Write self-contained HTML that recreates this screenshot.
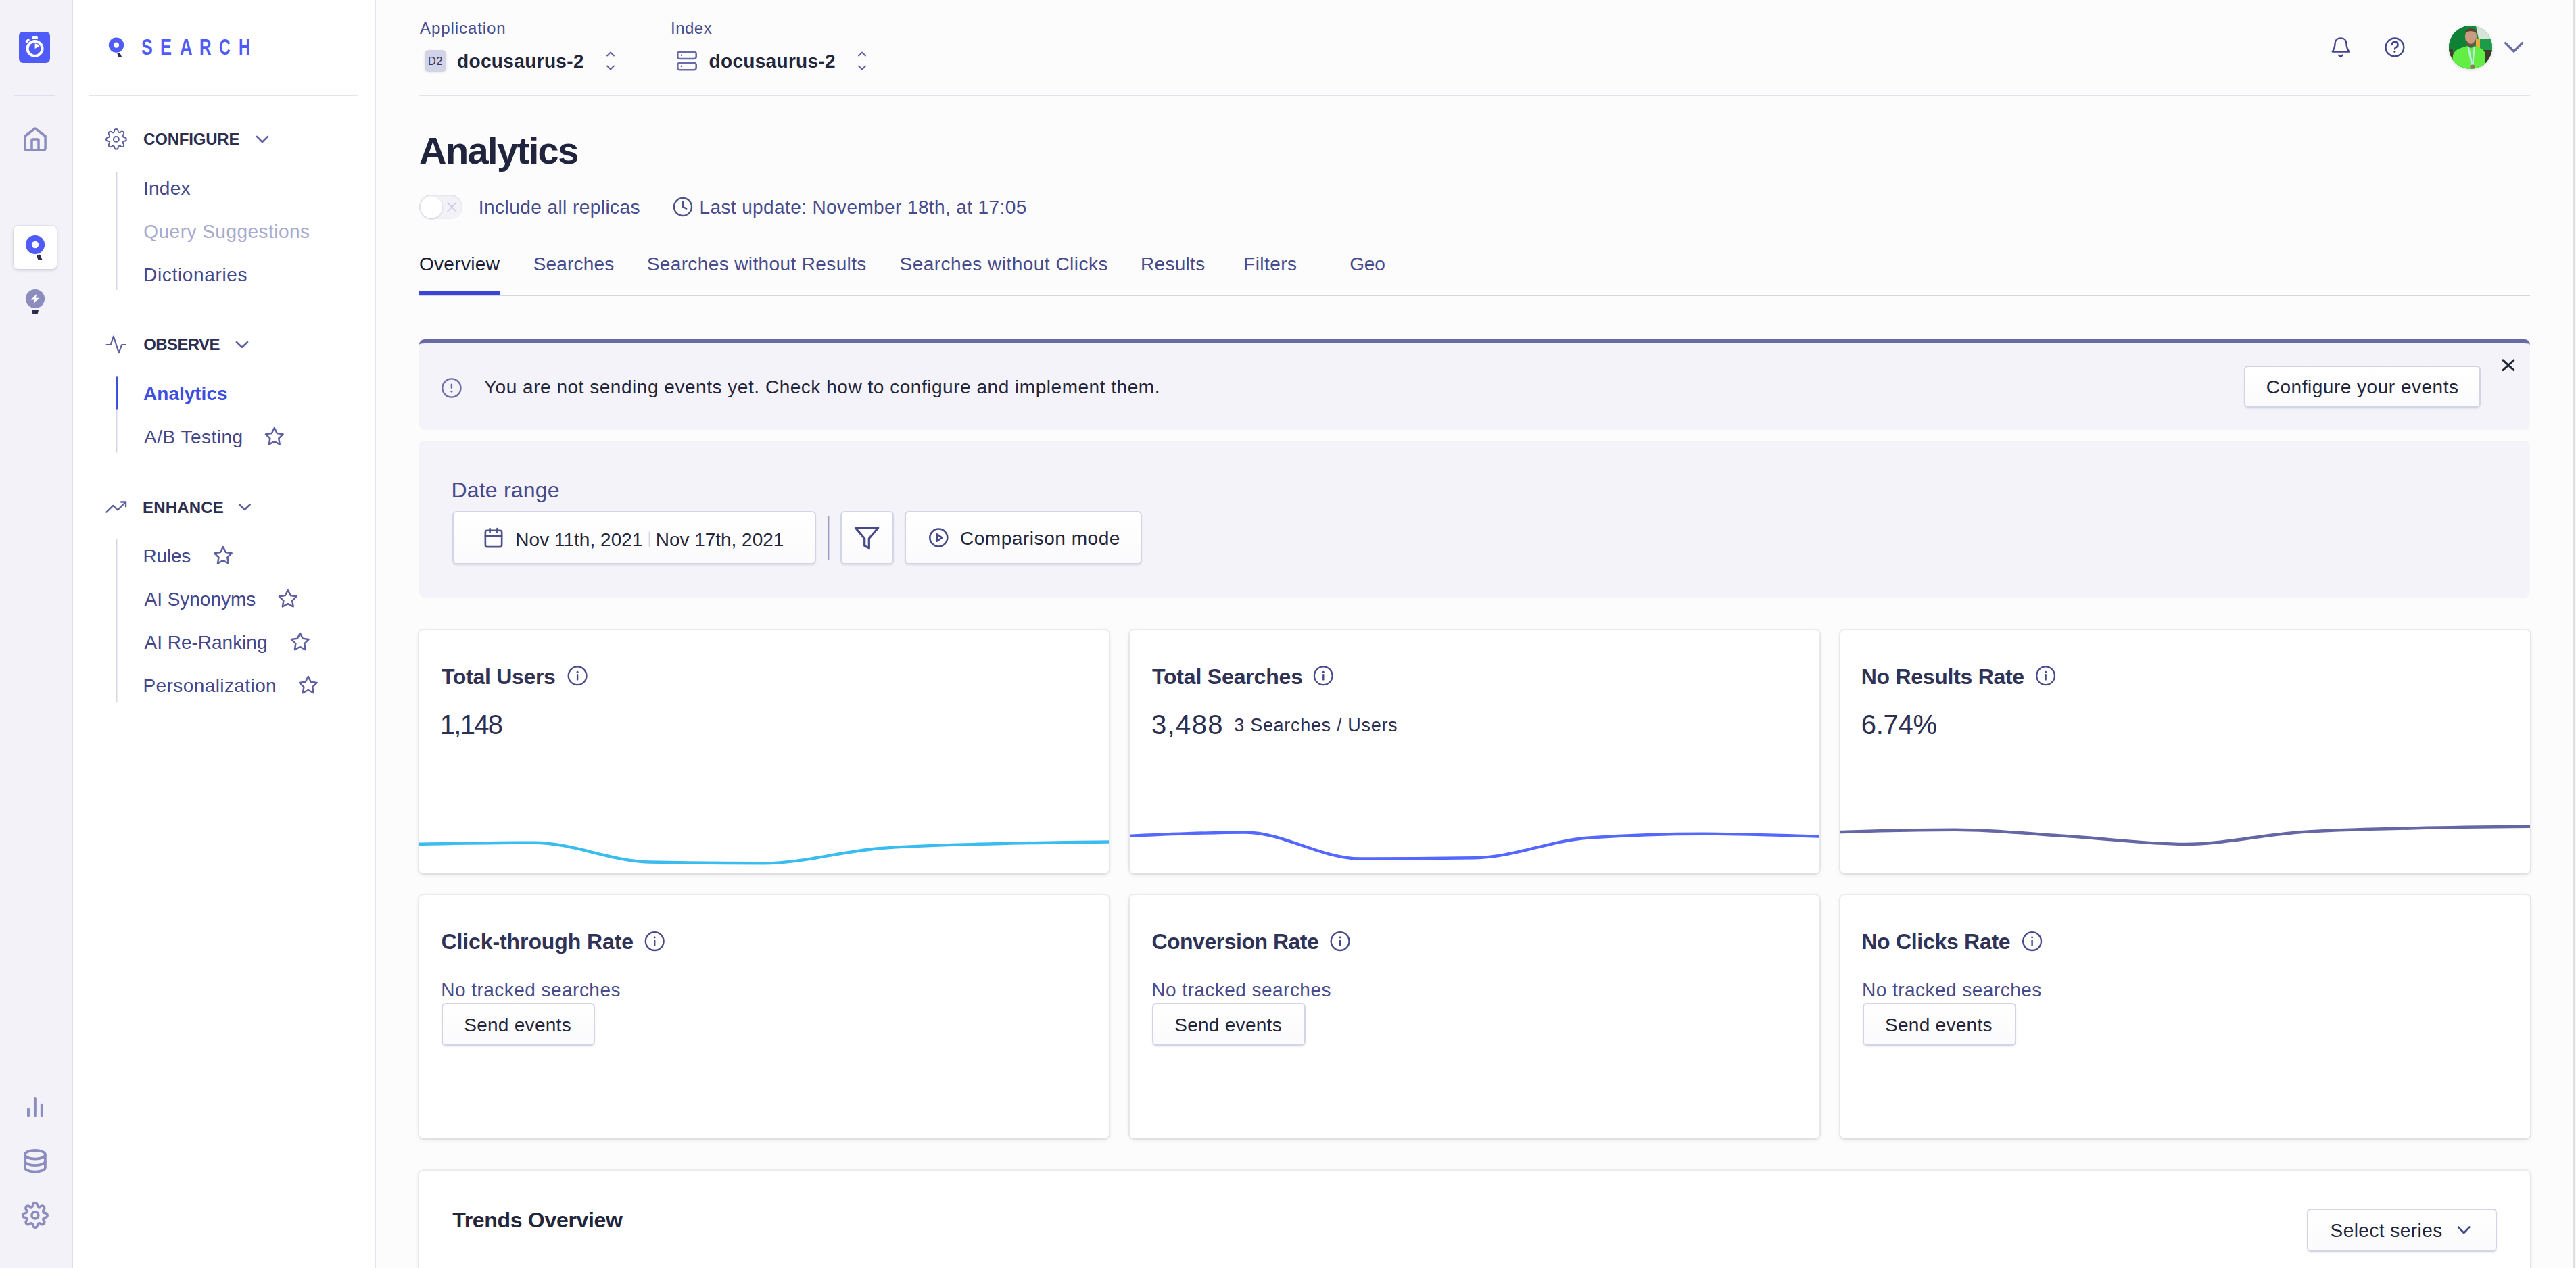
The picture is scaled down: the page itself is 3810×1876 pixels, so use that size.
<!DOCTYPE html><html><head><meta charset="utf-8"><title>Analytics</title><style>

*{margin:0;padding:0;box-sizing:border-box}
html,body{width:3810px;height:1876px;overflow:hidden;background:#fcfcfc;font-family:'Liberation Sans',sans-serif}
@media (max-width:2000px){html{zoom:0.5}}
.a{position:absolute}
.t{position:absolute;white-space:nowrap;font-family:'Liberation Sans',sans-serif}
.ov{position:absolute;left:0;top:0;pointer-events:none}
.btn{position:absolute;background:linear-gradient(#fff,#fbfbfd);border:2px solid #d4d4e8;border-radius:6px;box-shadow:0 2px 2px rgba(35,38,59,.08)}
.card{position:absolute;background:#fff;border-radius:6px;box-shadow:0 0 0 2px rgba(35,38,59,.05),0 2px 6px rgba(35,38,59,.12)}

</style></head><body>
<div class="a" style="left:0;top:0;width:106px;height:1876px;background:#f3f2f9"></div>
<div class="a" style="left:106px;top:0;width:2px;height:1876px;background:#dfdeed"></div>
<div class="a" style="left:108px;top:0;width:446px;height:1876px;background:#fff"></div>
<div class="a" style="left:554px;top:0;width:2px;height:1876px;background:#e4e3f0"></div>
<div class="a" style="left:3806px;top:0;width:2px;height:1876px;background:#e0e0e0"></div>
<div class="a" style="left:3808px;top:0;width:2px;height:1876px;background:#f6f6f6"></div>
<div class="a" style="left:20px;top:334px;width:64px;height:64px;background:#fff;border-radius:7px;box-shadow:0 0 0 1px rgba(35,38,59,.05),0 2px 5px rgba(35,38,59,.15)"></div>
<div class="a" style="left:628px;top:74px;width:32px;height:32px;background:#d3d3e7;border-radius:6px;box-shadow:0 1px 3px rgba(35,38,59,.15)"></div>
<div class="a" style="left:3622px;top:38px;width:64px;height:64px;border-radius:50%;overflow:hidden;box-shadow:0 1px 4px rgba(35,38,59,.18)"><svg width="64" height="64" viewBox="0 0 64 64"><rect width="64" height="64" fill="#138c3e"/><rect x="0" y="0" width="26" height="64" fill="#0f8236"/><path d="M40 0 H64 V20 H44 Z" fill="#d9e4d8"/><rect x="40" y="19" width="24" height="20" fill="#1d9a4a"/><rect x="40" y="20" width="6" height="14" fill="#e0b23a"/><rect x="48" y="36" width="16" height="28" fill="#3b3a2c"/><rect x="0" y="34" width="6" height="20" fill="#4a3a2a"/><ellipse cx="32.5" cy="16" rx="8.6" ry="12" fill="#c99b80"/><path d="M24 8 Q32 -1 41 8 L41 11 Q32 5 24 11 Z" fill="#5a4636"/><path d="M25 20 Q32.5 34 40 20 L40 26 Q32.5 36 25 26 Z" fill="#6e5442"/><path d="M4 64 L6 44 Q8 36 18 33 L27 30 Q32.5 36 38 30 L46 33 Q54 36 54 44 L54 64 Z" fill="#62ee42"/><path d="M27.5 32 L33 59 L36.5 59 L38.5 32 L36.5 32 L35 54 L30 32 Z" fill="#bfe8e6"/><circle cx="35" cy="61" r="3.6" fill="#8a7a55"/></svg></div>
<div class="a" style="left:620px;top:288px;width:64px;height:36px;border-radius:18px;background:#f2f2f8;box-shadow:inset 0 1px 3px rgba(35,38,59,.12)"></div>
<div class="a" style="left:621.5px;top:290px;width:32.5px;height:32.5px;border-radius:50%;background:#fff;box-shadow:0 1px 3px rgba(35,38,59,.2)"></div>
<div class="a" style="left:620px;top:502px;width:3122px;height:134px;border-radius:8px;background:#f4f3f9;border-top:6px solid #696aa3"></div>
<div class="a" style="left:620px;top:652px;width:3122px;height:232px;border-radius:8px;background:#f4f3f9"></div>
<div class="btn" style="left:3319px;top:540.5px;width:350px;height:62.5px"></div>
<div class="btn" style="left:669px;top:756px;width:538px;height:79px"></div>
<div class="btn" style="left:1242.5px;top:756px;width:79px;height:79px"></div>
<div class="btn" style="left:1338px;top:756px;width:351px;height:79px"></div>
<div class="card" style="left:620px;top:932px;width:1020px;height:360px"></div>
<div class="card" style="left:1671px;top:932px;width:1020px;height:360px"></div>
<div class="card" style="left:2722px;top:932px;width:1020px;height:360px"></div>
<div class="card" style="left:620px;top:1324px;width:1020px;height:360px"></div>
<div class="card" style="left:1671px;top:1324px;width:1020px;height:360px"></div>
<div class="card" style="left:2722px;top:1324px;width:1020px;height:360px"></div>
<div class="card" style="left:620px;top:1732px;width:3122px;height:200px"></div>
<div class="btn" style="left:652.5px;top:1484px;width:227px;height:63px"></div>
<div class="btn" style="left:1704px;top:1484px;width:227px;height:63px"></div>
<div class="btn" style="left:2755px;top:1484px;width:227px;height:63px"></div>
<div class="btn" style="left:3412px;top:1788px;width:281px;height:64px"></div>
<svg class="ov" width="3810" height="1876" viewBox="0 0 3810 1876"><rect x="28" y="47" width="46" height="46" rx="6" fill="#505cf9"/><circle cx="51.6" cy="71.9" r="11" fill="none" stroke="#fff" stroke-width="4"/><path d="M49.1 56.1 H54.1" stroke="#fff" stroke-width="4" stroke-linecap="round"/><path d="M39.5 61.5 L42 59" stroke="#fff" stroke-width="3.6" stroke-linecap="round"/><path d="M51.6 72 L51.6 64.6 A7.4 7.4 0 0 1 58.4 68.2 Z" fill="#fff"/><rect x="20" y="140" width="62" height="2" fill="#dfdeed"/><path d="M36.8 201.5 L51.9 190 L67.1 201.5 V218.7 Q67.1 222.2 63.6 222.2 H40.3 Q36.8 222.2 36.8 218.7 Z" fill="none" stroke="#8c8dbe" stroke-width="3.5" stroke-linejoin="round"/><path d="M47 222.2 V207.4 Q47 205.9 48.5 205.9 H55.5 Q57 205.9 57 207.4 V222.2" fill="none" stroke="#8c8dbe" stroke-width="3.5" stroke-linejoin="round"/><circle cx="52" cy="362" r="14.1" fill="#505cf9"/><circle cx="52" cy="362" r="5.2" fill="#fff"/><path d="M54 377.8 L59.1 376.4 L62.8 384.9 L56.6 384.9 Z" fill="#2c2e50"/><circle cx="52" cy="442" r="14.1" fill="#8c8dbe"/><path d="M54.6 434.6 L45.6 443.6 L51.4 443.6 L49.6 449.6 L58.5 440.7 L52.8 440.7 Z" fill="#fff"/><path d="M46.9 458.5 H57.1 L55.6 464.6 H48.4 Z" fill="#2c2e50"/><path d="M42 1641.3 V1650.7 M51.9 1625 V1650.7 M61.8 1634.8 V1650.7" stroke="#8c8dbe" stroke-width="3.9" stroke-linecap="round"/><g fill="none" stroke="#8c8dbe" stroke-width="3.8"><ellipse cx="51.9" cy="1708.3" rx="15" ry="6.3"/><path d="M36.9 1708.3 V1727.4 A15 6.3 0 0 0 66.9 1727.4 V1708.3"/><path d="M36.9 1717.8 A15 6.3 0 0 0 66.9 1717.8"/></g><g transform="translate(31.98 1777.98) scale(1.6600)" fill="none" stroke="#8c8dbe" stroke-width="2.169" stroke-linecap="round" stroke-linejoin="round"><circle cx="12" cy="12" r="3"/><path d="M19.4 15a1.65 1.65 0 0 0 .33 1.82l.06.06a2 2 0 0 1 0 2.83 2 2 0 0 1-2.83 0l-.06-.06a1.65 1.65 0 0 0-1.82-.33 1.65 1.65 0 0 0-1 1.51V21a2 2 0 0 1-2 2 2 2 0 0 1-2-2v-.09A1.65 1.65 0 0 0 9 19.4a1.65 1.65 0 0 0-1.82.33l-.06.06a2 2 0 0 1-2.83 0 2 2 0 0 1 0-2.83l.06-.06a1.65 1.65 0 0 0 .33-1.82 1.65 1.65 0 0 0-1.51-1H3a2 2 0 0 1-2-2 2 2 0 0 1 2-2h.09A1.65 1.65 0 0 0 4.6 9a1.65 1.65 0 0 0-.33-1.82l-.06-.06a2 2 0 0 1 0-2.83 2 2 0 0 1 2.83 0l.06.06a1.65 1.65 0 0 0 1.82.33H9a1.65 1.65 0 0 0 1-1.51V3a2 2 0 0 1 2-2 2 2 0 0 1 2 2v.09a1.65 1.65 0 0 0 1 1.51 1.65 1.65 0 0 0 1.82-.33l.06-.06a2 2 0 0 1 2.83 0 2 2 0 0 1 0 2.83l-.06.06a1.65 1.65 0 0 0-.33 1.82V9a1.65 1.65 0 0 0 1.51 1H21a2 2 0 0 1 2 2 2 2 0 0 1-2 2h-.09a1.65 1.65 0 0 0-1.51 1z"/></g><circle cx="172" cy="66.6" r="11.2" fill="#505cf9"/><circle cx="172" cy="66.6" r="4.2" fill="#fff"/><path d="M173.3 79.2 L177.3 78.2 L180.4 84.8 L175.6 84.8 Z" fill="#2c2e50"/><rect x="132" y="140" width="398" height="2" fill="#e4e3f0"/><g transform="translate(155.64 189.64) scale(1.3550)" fill="none" stroke="#5d5f9f" stroke-width="1.476" stroke-linecap="round" stroke-linejoin="round"><circle cx="12" cy="12" r="2.9"/><path d="M19.4 15a1.65 1.65 0 0 0 .33 1.82l.06.06a2 2 0 0 1 0 2.83 2 2 0 0 1-2.83 0l-.06-.06a1.65 1.65 0 0 0-1.82-.33 1.65 1.65 0 0 0-1 1.51V21a2 2 0 0 1-2 2 2 2 0 0 1-2-2v-.09A1.65 1.65 0 0 0 9 19.4a1.65 1.65 0 0 0-1.82.33l-.06.06a2 2 0 0 1-2.83 0 2 2 0 0 1 0-2.83l.06-.06a1.65 1.65 0 0 0 .33-1.82 1.65 1.65 0 0 0-1.51-1H3a2 2 0 0 1-2-2 2 2 0 0 1 2-2h.09A1.65 1.65 0 0 0 4.6 9a1.65 1.65 0 0 0-.33-1.82l-.06-.06a2 2 0 0 1 0-2.83 2 2 0 0 1 2.83 0l.06.06a1.65 1.65 0 0 0 1.82.33H9a1.65 1.65 0 0 0 1-1.51V3a2 2 0 0 1 2-2 2 2 0 0 1 2 2v.09a1.65 1.65 0 0 0 1 1.51 1.65 1.65 0 0 0 1.82-.33l.06-.06a2 2 0 0 1 2.83 0 2 2 0 0 1 0 2.83l-.06.06a1.65 1.65 0 0 0-.33 1.82V9a1.65 1.65 0 0 0 1.51 1H21a2 2 0 0 1 2 2 2 2 0 0 1-2 2h-.09a1.65 1.65 0 0 0-1.51 1z"/></g><path d="M379.9 201.9 L387.9 210.0 L396.0 201.9" fill="none" stroke="#5d5f9f" stroke-width="2.5" stroke-linecap="round" stroke-linejoin="round"/><path d="M157.6 510 H163.8 L167.9 497.6 L175.8 522.2 L180.1 510 H185.9" fill="none" stroke="#5d5f9f" stroke-width="2.2" stroke-linecap="round" stroke-linejoin="round"/><path d="M350.0 506.2 L358.0 513.8 L366.0 506.2" fill="none" stroke="#5d5f9f" stroke-width="2.6" stroke-linecap="round" stroke-linejoin="round"/><path d="M157.4 757.6 L167.3 747.9 L174 754.4 L186.1 742.5 M179 742.5 H186.1 V749.6" fill="none" stroke="#5d5f9f" stroke-width="2.3" stroke-linecap="round" stroke-linejoin="round"/><path d="M354.2 746.4 L361.9 753.8 L369.7 746.4" fill="none" stroke="#5d5f9f" stroke-width="2.6" stroke-linecap="round" stroke-linejoin="round"/><rect x="171.5" y="254" width="2" height="175" fill="#d6d6e7"/><rect x="171.5" y="557.5" width="2" height="112" fill="#d6d6e7"/><rect x="171.5" y="557.5" width="2.5" height="48" fill="#3c4fe0"/><rect x="171.5" y="798" width="2" height="240" fill="#d6d6e7"/><g transform="translate(390.44 630.44) scale(1.2800)" fill="none" stroke="#5d5f9f" stroke-width="1.953" stroke-linecap="round" stroke-linejoin="round"><path d="M12 2 15.09 8.26 22 9.27 17 14.14 18.18 21.02 12 17.77 5.82 21.02 7 14.14 2 9.27 8.91 8.26Z"/></g><g transform="translate(314.54 806.44) scale(1.2800)" fill="none" stroke="#5d5f9f" stroke-width="1.953" stroke-linecap="round" stroke-linejoin="round"><path d="M12 2 15.09 8.26 22 9.27 17 14.14 18.18 21.02 12 17.77 5.82 21.02 7 14.14 2 9.27 8.91 8.26Z"/></g><g transform="translate(410.44 870.44) scale(1.2800)" fill="none" stroke="#5d5f9f" stroke-width="1.953" stroke-linecap="round" stroke-linejoin="round"><path d="M12 2 15.09 8.26 22 9.27 17 14.14 18.18 21.02 12 17.77 5.82 21.02 7 14.14 2 9.27 8.91 8.26Z"/></g><g transform="translate(428.44 934.24) scale(1.2800)" fill="none" stroke="#5d5f9f" stroke-width="1.953" stroke-linecap="round" stroke-linejoin="round"><path d="M12 2 15.09 8.26 22 9.27 17 14.14 18.18 21.02 12 17.77 5.82 21.02 7 14.14 2 9.27 8.91 8.26Z"/></g><g transform="translate(440.44 998.24) scale(1.2800)" fill="none" stroke="#5d5f9f" stroke-width="1.953" stroke-linecap="round" stroke-linejoin="round"><path d="M12 2 15.09 8.26 22 9.27 17 14.14 18.18 21.02 12 17.77 5.82 21.02 7 14.14 2 9.27 8.91 8.26Z"/></g><path d="M898.0 82.5 L903.0 77.5 L908.0 82.5 M898.0 97.5 L903.0 102.5 L908.0 97.5" fill="none" stroke="#5d5f9f" stroke-width="1.9" stroke-linecap="round" stroke-linejoin="round"/><path d="M1270.0 82.5 L1275.0 77.5 L1280.0 82.5 M1270.0 97.5 L1275.0 102.5 L1280.0 97.5" fill="none" stroke="#5d5f9f" stroke-width="1.9" stroke-linecap="round" stroke-linejoin="round"/><g fill="none" stroke="#6a6ca8" stroke-width="2.6"><rect x="1002.3" y="76.6" width="27.4" height="10.4" rx="3"/><rect x="1002.3" y="92.7" width="27.4" height="10.5" rx="3"/></g><circle cx="1008" cy="81.8" r="1.3" fill="#6a6ca8"/><circle cx="1008" cy="97.9" r="1.3" fill="#6a6ca8"/><rect x="620" y="140" width="3122" height="2" fill="#e3e3ee"/><path d="M3449.8 76.5 H3474.2 L3471.7 71.5 Q3470.6 68.5 3470.4 64 C3470.2 59.3 3466.8 56.4 3462 56.4 C3457.2 56.4 3453.8 59.3 3453.6 64 Q3453.4 68.5 3452.3 71.5 Z" fill="none" stroke="#43468a" stroke-width="2.4" stroke-linejoin="round"/><path d="M3459.2 81.6 L3462 84 L3464.8 81.6" fill="none" stroke="#43468a" stroke-width="2.4" stroke-linecap="round" stroke-linejoin="round"/><circle cx="3541.9" cy="69.95" r="13.4" fill="none" stroke="#43468a" stroke-width="2.4"/><path d="M3537.9 66.1 A4.3 4.3 0 1 1 3544.2 69.9 Q3541.9 71 3541.9 72.6" fill="none" stroke="#43468a" stroke-width="2.5" stroke-linecap="round"/><circle cx="3541.9" cy="76.6" r="1.5" fill="#43468a"/><path d="M3705.7 63.6 L3718.1 76.0 L3730.5 63.6" fill="none" stroke="#6a6ca8" stroke-width="3.4" stroke-linecap="round" stroke-linejoin="round"/><path d="M662 300 L674.5 312.5 M674.5 300 L662 312.5" stroke="#c8c9e0" stroke-width="1.6" stroke-linecap="round"/><g transform="translate(994.40 290.40) scale(1.3000)" fill="none" stroke="#4d5188" stroke-width="1.846" stroke-linecap="round" stroke-linejoin="round"><circle cx="12" cy="12" r="10"/><polyline points="12 6 12 12 16 14"/></g><rect x="620" y="436" width="3122" height="2" fill="#d6d6e7"/><rect x="620" y="430" width="120" height="6" fill="#3a44d6"/><circle cx="667.9" cy="574" r="13.6" fill="none" stroke="#6a6ba5" stroke-width="2.3"/><path d="M667.9 568.6 V573.8" stroke="#6a6ba5" stroke-width="2.4" stroke-linecap="round"/><circle cx="667.9" cy="579.3" r="1.4" fill="#6a6ba5"/><path d="M3702 532.8 L3718 547.6 M3718 532.8 L3702 547.6" stroke="#23263b" stroke-width="3" stroke-linecap="round"/><g transform="translate(713.80 779.40) scale(1.3500)" fill="none" stroke="#4d5188" stroke-width="1.926" stroke-linecap="round" stroke-linejoin="round"><rect x="3" y="4" width="18" height="18" rx="2"/><line x1="16" y1="2" x2="16" y2="6"/><line x1="8" y1="2" x2="8" y2="6"/><line x1="3" y1="10" x2="21" y2="10"/></g><rect x="959.6" y="786.4" width="2" height="22.8" fill="#d6d6e7"/><rect x="1224" y="764" width="2.4" height="64" fill="#9a9cc6"/><g transform="translate(1262.08 776.08) scale(1.6600)" fill="none" stroke="#474a8a" stroke-width="1.928" stroke-linecap="round" stroke-linejoin="round"><polygon points="22 3 2 3 10 12.46 10 19 14 21 14 12.46 22 3"/></g><g transform="translate(1372.70 779.90) scale(1.3000)" fill="none" stroke="#474a8a" stroke-width="2.000" stroke-linecap="round" stroke-linejoin="round"><circle cx="12" cy="12" r="10"/><polygon points="10 8 16 12 10 16 10 8"/></g><circle cx="854.1" cy="999.8" r="13.4" fill="none" stroke="#474a8a" stroke-width="2.3"/><path d="M854.1 998.3 V1005.4" stroke="#474a8a" stroke-width="2.4" stroke-linecap="round"/><circle cx="854.1" cy="994.2" r="1.45" fill="#474a8a"/><circle cx="1957.3" cy="999.8" r="13.4" fill="none" stroke="#474a8a" stroke-width="2.3"/><path d="M1957.3 998.3 V1005.4" stroke="#474a8a" stroke-width="2.4" stroke-linecap="round"/><circle cx="1957.3" cy="994.2" r="1.45" fill="#474a8a"/><circle cx="3025.6" cy="999.8" r="13.4" fill="none" stroke="#474a8a" stroke-width="2.3"/><path d="M3025.6 998.3 V1005.4" stroke="#474a8a" stroke-width="2.4" stroke-linecap="round"/><circle cx="3025.6" cy="994.2" r="1.45" fill="#474a8a"/><circle cx="968.2" cy="1392.6" r="13.4" fill="none" stroke="#474a8a" stroke-width="2.3"/><path d="M968.2 1391.1 V1398.2" stroke="#474a8a" stroke-width="2.4" stroke-linecap="round"/><circle cx="968.2" cy="1387.0" r="1.45" fill="#474a8a"/><circle cx="1982.1" cy="1392.6" r="13.4" fill="none" stroke="#474a8a" stroke-width="2.3"/><path d="M1982.1 1391.1 V1398.2" stroke="#474a8a" stroke-width="2.4" stroke-linecap="round"/><circle cx="1982.1" cy="1387.0" r="1.45" fill="#474a8a"/><circle cx="3005.6" cy="1392.6" r="13.4" fill="none" stroke="#474a8a" stroke-width="2.3"/><path d="M3005.6 1391.1 V1398.2" stroke="#474a8a" stroke-width="2.4" stroke-linecap="round"/><circle cx="3005.6" cy="1387.0" r="1.45" fill="#474a8a"/><path d="M3636.0 1815.5 L3644.2 1824.0 L3652.5 1815.5" fill="none" stroke="#474a8a" stroke-width="2.6" stroke-linecap="round" stroke-linejoin="round"/><path d="M620.0 1248.8 C676.7 1247.8 733.3 1246.7 790.0 1246.7 C846.7 1246.7 903.3 1274.3 960.0 1275.5 C1016.7 1276.7 1073.3 1277.3 1130.0 1277.3 C1186.7 1277.3 1243.3 1259.8 1300.0 1255.2 C1356.7 1250.6 1413.3 1249.9 1470.0 1248.3 C1526.7 1246.7 1583.3 1246.1 1640.0 1245.5" fill="none" stroke="#3bbcee" stroke-width="4.4"/><path d="M1672.0 1236.8 C1728.6 1234.2 1785.1 1231.5 1841.7 1231.5 C1898.2 1231.5 1954.8 1270.5 2011.3 1270.5 C2067.9 1270.5 2124.4 1270.1 2181.0 1269.3 C2237.6 1268.5 2294.1 1243.3 2350.7 1239.5 C2407.2 1235.7 2463.8 1233.8 2520.3 1233.8 C2576.9 1233.8 2633.4 1235.7 2690.0 1237.6" fill="none" stroke="#5468ff" stroke-width="4.4"/><path d="M2722.0 1231.0 C2778.7 1229.4 2835.3 1227.7 2892.0 1227.7 C2948.7 1227.7 3005.3 1234.0 3062.0 1237.5 C3118.7 1241.0 3175.3 1248.9 3232.0 1248.9 C3288.7 1248.9 3345.3 1235.1 3402.0 1231.2 C3458.7 1227.3 3515.3 1226.7 3572.0 1225.3 C3628.7 1223.9 3685.3 1223.3 3742.0 1222.8" fill="none" stroke="#6567a5" stroke-width="4.4"/></svg>
<div class="t" style="left:208.83px;top:53.9px;font-size:32.7px;line-height:32.7px;font-weight:700;color:#505cf9;transform:scaleX(0.770);transform-origin:0 0">S</div>
<div class="t" style="left:237.44px;top:53.9px;font-size:32.7px;line-height:32.7px;font-weight:700;color:#505cf9;transform:scaleX(0.779);transform-origin:0 0">E</div>
<div class="t" style="left:265.71px;top:53.9px;font-size:32.7px;line-height:32.7px;font-weight:700;color:#505cf9;transform:scaleX(0.786);transform-origin:0 0">A</div>
<div class="t" style="left:294.91px;top:53.9px;font-size:32.7px;line-height:32.7px;font-weight:700;color:#505cf9;transform:scaleX(0.743);transform-origin:0 0">R</div>
<div class="t" style="left:324.29px;top:53.9px;font-size:32.7px;line-height:32.7px;font-weight:700;color:#505cf9;transform:scaleX(0.709);transform-origin:0 0">C</div>
<div class="t" style="left:353.16px;top:53.9px;font-size:32.7px;line-height:32.7px;font-weight:700;color:#505cf9;transform:scaleX(0.720);transform-origin:0 0">H</div>
<div class="t" style="left:621.0px;top:30.0px;font-size:24px;line-height:24px;font-weight:400;color:#474b8b;letter-spacing:0.93px">Application</div>
<div class="t" style="left:676.0px;top:77.0px;font-size:28px;line-height:28px;font-weight:700;color:#23263b;letter-spacing:0.36px">docusaurus-2</div>
<div class="t" style="left:992.0px;top:30.0px;font-size:24px;line-height:24px;font-weight:400;color:#474b8b;letter-spacing:0.50px">Index</div>
<div class="t" style="left:1048.6px;top:77.0px;font-size:28px;line-height:28px;font-weight:700;color:#23263b;letter-spacing:0.31px">docusaurus-2</div>
<div class="t" style="left:633.0px;top:82.8px;font-size:16px;line-height:16px;font-weight:400;color:#35385c;letter-spacing:1.00px">D2</div>
<div class="t" style="left:212.1px;top:194.0px;font-size:24px;line-height:24px;font-weight:700;color:#2b2e4f;letter-spacing:-0.21px">CONFIGURE</div>
<div class="t" style="left:212.0px;top:264.8px;font-size:28px;line-height:28px;font-weight:400;color:#43478a;letter-spacing:0.25px">Index</div>
<div class="t" style="left:212.3px;top:329.0px;font-size:28px;line-height:28px;font-weight:400;color:#a7a9cf;letter-spacing:0.48px">Query Suggestions</div>
<div class="t" style="left:212.1px;top:393.1px;font-size:28px;line-height:28px;font-weight:400;color:#43478a;letter-spacing:0.65px">Dictionaries</div>
<div class="t" style="left:212.3px;top:498.0px;font-size:24px;line-height:24px;font-weight:700;color:#2b2e4f;letter-spacing:-0.62px">OBSERVE</div>
<div class="t" style="left:212.1px;top:569.0px;font-size:28px;line-height:28px;font-weight:700;color:#3c4fe0;letter-spacing:-0.01px">Analytics</div>
<div class="t" style="left:213.1px;top:632.8px;font-size:28px;line-height:28px;font-weight:400;color:#43478a;letter-spacing:0.48px">A/B Testing</div>
<div class="t" style="left:211.0px;top:739.0px;font-size:24px;line-height:24px;font-weight:700;color:#2b2e4f;letter-spacing:0.17px">ENHANCE</div>
<div class="t" style="left:211.5px;top:808.8px;font-size:28px;line-height:28px;font-weight:400;color:#43478a;letter-spacing:-0.20px">Rules</div>
<div class="t" style="left:213.5px;top:873.2px;font-size:28px;line-height:28px;font-weight:400;color:#43478a;letter-spacing:-0.02px">AI Synonyms</div>
<div class="t" style="left:213.5px;top:937.0px;font-size:28px;line-height:28px;font-weight:400;color:#43478a;letter-spacing:-0.01px">AI Re-Ranking</div>
<div class="t" style="left:211.5px;top:1001.0px;font-size:28px;line-height:28px;font-weight:400;color:#43478a;letter-spacing:0.41px">Personalization</div>
<div class="t" style="left:620.1px;top:195.2px;font-size:56px;line-height:56px;font-weight:700;color:#21243d;letter-spacing:-1.60px">Analytics</div>
<div class="t" style="left:707.8px;top:293.0px;font-size:28px;line-height:28px;font-weight:400;color:#474b8b;letter-spacing:0.44px">Include all replicas</div>
<div class="t" style="left:1034.5px;top:293.0px;font-size:28px;line-height:28px;font-weight:400;color:#474b8b;letter-spacing:0.39px">Last update: November 18th, at 17:05</div>
<div class="t" style="left:619.9px;top:377.0px;font-size:28px;line-height:28px;font-weight:400;color:#1c1f33;letter-spacing:0.33px">Overview</div>
<div class="t" style="left:788.7px;top:377.0px;font-size:28px;line-height:28px;font-weight:400;color:#474b8b;letter-spacing:0.17px">Searches</div>
<div class="t" style="left:956.7px;top:377.0px;font-size:28px;line-height:28px;font-weight:400;color:#474b8b;letter-spacing:0.38px">Searches without Results</div>
<div class="t" style="left:1330.5px;top:377.0px;font-size:28px;line-height:28px;font-weight:400;color:#474b8b;letter-spacing:0.49px">Searches without Clicks</div>
<div class="t" style="left:1687.1px;top:377.0px;font-size:28px;line-height:28px;font-weight:400;color:#474b8b;letter-spacing:0.28px">Results</div>
<div class="t" style="left:1839.1px;top:377.0px;font-size:28px;line-height:28px;font-weight:400;color:#474b8b;letter-spacing:0.45px">Filters</div>
<div class="t" style="left:1996.2px;top:377.0px;font-size:28px;line-height:28px;font-weight:400;color:#474b8b;letter-spacing:-0.10px">Geo</div>
<div class="t" style="left:715.9px;top:559.1px;font-size:28px;line-height:28px;font-weight:400;color:#23263b;letter-spacing:0.53px">You are not sending events yet. Check how to configure and implement them.</div>
<div class="t" style="left:3351.8px;top:559.0px;font-size:28px;line-height:28px;font-weight:400;color:#23263b;letter-spacing:0.51px">Configure your events</div>
<div class="t" style="left:667.5px;top:709.0px;font-size:32px;line-height:32px;font-weight:400;color:#474b8b;letter-spacing:0.19px">Date range</div>
<div class="t" style="left:762.3px;top:785.3px;font-size:28px;line-height:28px;font-weight:400;color:#23263b;letter-spacing:0.02px">Nov 11th, 2021</div>
<div class="t" style="left:969.7px;top:785.3px;font-size:28px;line-height:28px;font-weight:400;color:#23263b;letter-spacing:-0.02px">Nov 17th, 2021</div>
<div class="t" style="left:1420.0px;top:783.0px;font-size:28px;line-height:28px;font-weight:400;color:#23263b;letter-spacing:0.54px">Comparison mode</div>
<div class="t" style="left:653.0px;top:985.1px;font-size:32px;line-height:32px;font-weight:700;color:#303355;letter-spacing:-0.30px">Total Users</div>
<div class="t" style="left:650.7px;top:1051.9px;font-size:40px;line-height:40px;font-weight:400;color:#2c2f50;letter-spacing:-1.68px">1,148</div>
<div class="t" style="left:1704.0px;top:985.1px;font-size:32px;line-height:32px;font-weight:700;color:#303355;letter-spacing:-0.18px">Total Searches</div>
<div class="t" style="left:1703.0px;top:1052.1px;font-size:40px;line-height:40px;font-weight:400;color:#2c2f50;letter-spacing:1.35px">3,488</div>
<div class="t" style="left:1825.3px;top:1059.6px;font-size:27px;line-height:27px;font-weight:400;color:#2c2f50;letter-spacing:0.69px">3 Searches / Users</div>
<div class="t" style="left:2752.8px;top:985.1px;font-size:32px;line-height:32px;font-weight:700;color:#303355;letter-spacing:-0.29px">No Results Rate</div>
<div class="t" style="left:2752.8px;top:1051.9px;font-size:40px;line-height:40px;font-weight:400;color:#2c2f50;letter-spacing:-0.28px">6.74%</div>
<div class="t" style="left:652.4px;top:1377.0px;font-size:32px;line-height:32px;font-weight:700;color:#303355;letter-spacing:-0.09px">Click-through Rate</div>
<div class="t" style="left:1703.4px;top:1377.0px;font-size:32px;line-height:32px;font-weight:700;color:#303355;letter-spacing:-0.49px">Conversion Rate</div>
<div class="t" style="left:2753.2px;top:1377.0px;font-size:32px;line-height:32px;font-weight:700;color:#303355;letter-spacing:-0.28px">No Clicks Rate</div>
<div class="t" style="left:652.2px;top:1451.0px;font-size:28px;line-height:28px;font-weight:400;color:#474b8b;letter-spacing:0.47px">No tracked searches</div>
<div class="t" style="left:1703.2px;top:1451.0px;font-size:28px;line-height:28px;font-weight:400;color:#474b8b;letter-spacing:0.47px">No tracked searches</div>
<div class="t" style="left:2754.0px;top:1451.0px;font-size:28px;line-height:28px;font-weight:400;color:#474b8b;letter-spacing:0.47px">No tracked searches</div>
<div class="t" style="left:686.2px;top:1503.0px;font-size:28px;line-height:28px;font-weight:400;color:#23263b;letter-spacing:0.28px">Send events</div>
<div class="t" style="left:1737.2px;top:1503.0px;font-size:28px;line-height:28px;font-weight:400;color:#23263b;letter-spacing:0.28px">Send events</div>
<div class="t" style="left:2788.0px;top:1503.0px;font-size:28px;line-height:28px;font-weight:400;color:#23263b;letter-spacing:0.28px">Send events</div>
<div class="t" style="left:669.2px;top:1788.9px;font-size:32px;line-height:32px;font-weight:700;color:#23263b;letter-spacing:-0.31px">Trends Overview</div>
<div class="t" style="left:3446.5px;top:1807.0px;font-size:28px;line-height:28px;font-weight:400;color:#23263b;letter-spacing:0.46px">Select series</div>
</body></html>
